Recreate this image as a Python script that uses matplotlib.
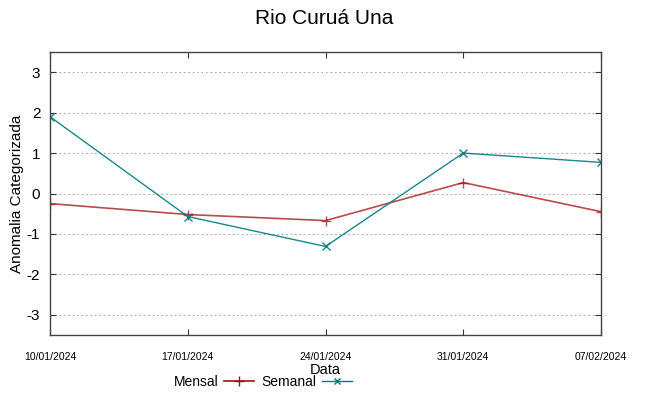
import matplotlib
matplotlib.use("Agg")
import matplotlib.pyplot as plt
from matplotlib.lines import Line2D
import datetime as dt

plt.rcParams['font.family'] = ['Liberation Sans', 'DejaVu Sans']

dates = ["10/01/2024", "17/01/2024", "24/01/2024", "31/01/2024", "07/02/2024"]
mensal = [-0.25, -0.52, -0.67, 0.27, -0.45]
semanal = [1.9, -0.57, -1.31, 1.0, 0.77]
yticks = [-3, -2, -1, 0, 1, 2, 3]

x = [dt.datetime.strptime(d, "%d/%m/%Y") for d in dates]

fig = plt.figure(figsize=(6.49, 3.96), dpi=100)
ax = fig.add_axes([50/649, 61/396, 551/649, 283/396])

c_m = '#a01010'
c_s = '#007b7b'
ax.plot(x, mensal, color=c_m, lw=1.2, marker='+', ms=7, mew=1, alpha=0.75, label='Mensal')
ax.plot(x, semanal, color=c_s, lw=1.0, marker='x', ms=6, mew=1, alpha=0.9, label='Semanal')

ax.set_xlim(x[0], x[-1])
ax.set_ylim(-3.5, 3.5)
ax.set_yticks(yticks)
ax.set_yticklabels([str(v) for v in yticks], fontsize=11)
ax.set_xticks(x)
ax.set_xticklabels(dates, fontsize=7.5)
ax.tick_params(axis='both', direction='in', top=True, right=True, length=4, width=0.8, color='#333333')
ax.tick_params(axis='x', pad=12)
ax.tick_params(axis='y', pad=7)
ax.grid(axis='y', linestyle=(0, (1.5, 2.5)), color='#aaaaaa', lw=0.8)
for s in ax.spines.values():
    s.set_color('#444444')
    s.set_linewidth(1.0)

ax.set_ylabel('Anomalia Categorizada', fontsize=11)
ax.yaxis.set_label_coords(-26/551, 0.5)
ax.set_xlabel('Data', fontsize=10.5)
ax.xaxis.set_label_coords(0.5, -(370 - 335)/283)
ax.xaxis.label.set_va('center')
fig.text(0.5, 1 - 18/396, 'Rio Curuá Una', ha='center', va='center', fontsize=15)

handles = [Line2D([0], [0], color=c_m, lw=1.2, marker='+', ms=7, mew=1),
           Line2D([0], [0], color=c_s, lw=1.0, marker='x', ms=5, mew=1)]
fig.legend(handles, ['Mensal', 'Semanal'], loc='center', bbox_to_anchor=(263/649, 1 - 382/396),
           ncol=2, frameon=False, markerfirst=False, fontsize=10, handlelength=2.2,
           columnspacing=0.5, handletextpad=0.4, borderpad=0)

fig.savefig('out.png', dpi=100)
